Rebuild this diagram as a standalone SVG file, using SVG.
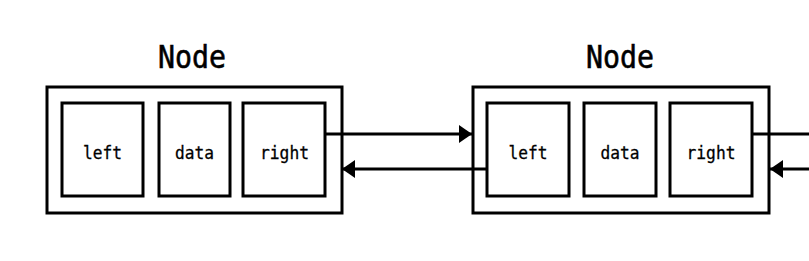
<svg xmlns="http://www.w3.org/2000/svg" width="809" height="261" viewBox="0 0 809 261">
<style>
.outer{fill:none;stroke:#000;stroke-width:3}
.field{fill:none;stroke:#000;stroke-width:3}
.title{font-family:"DejaVu Sans Mono",monospace;font-size:32px;fill:#000;stroke:#000;stroke-width:0.6;text-anchor:middle}
.lbl{font-family:"DejaVu Sans Mono",monospace;font-size:18px;fill:#000;stroke:#000;stroke-width:0.3;text-anchor:middle}
.conn{stroke:#000;stroke-width:3;fill:none}
</style>
<defs>
<marker id="ah" markerUnits="userSpaceOnUse" markerWidth="14" markerHeight="18" refX="13" refY="9" orient="auto">
<path d="M0,0 L13,9 L0,18 z" fill="#000"/>
</marker>
</defs>
<rect width="809" height="261" fill="#fff"/>
<g id="node1">
<text class="title" x="192" y="68" textLength="68" lengthAdjust="spacingAndGlyphs">Node</text>
<rect class="outer" x="47" y="87" width="295" height="126"/>
<rect class="field" x="62" y="103" width="81" height="93"/>
<text class="lbl" x="102.5" y="158.5" textLength="39" lengthAdjust="spacingAndGlyphs">left</text>
<rect class="field" x="159" y="103" width="71" height="93"/>
<text class="lbl" x="194.5" y="158.5" textLength="39" lengthAdjust="spacingAndGlyphs">data</text>
<rect class="field" x="243" y="103" width="82" height="93"/>
<text class="lbl" x="284.5" y="158.5" textLength="49" lengthAdjust="spacingAndGlyphs">right</text>
</g>
<g id="node2">
<text class="title" x="620" y="68" textLength="68" lengthAdjust="spacingAndGlyphs">Node</text>
<rect class="outer" x="473" y="87" width="296" height="126"/>
<rect class="field" x="487" y="103" width="82" height="93"/>
<text class="lbl" x="528" y="158.5" textLength="39" lengthAdjust="spacingAndGlyphs">left</text>
<rect class="field" x="584" y="103" width="72" height="93"/>
<text class="lbl" x="620" y="158.5" textLength="39" lengthAdjust="spacingAndGlyphs">data</text>
<rect class="field" x="670" y="103" width="82" height="93"/>
<text class="lbl" x="711" y="158.5" textLength="49" lengthAdjust="spacingAndGlyphs">right</text>
</g>
<g id="connectors">
<line class="conn" x1="325" y1="134" x2="472" y2="134" marker-end="url(#ah)"/>
<line class="conn" x1="487" y1="169" x2="342" y2="169" marker-end="url(#ah)"/>
<line class="conn" x1="752" y1="134" x2="812" y2="134"/>
<line class="conn" x1="812" y1="169" x2="770" y2="169" marker-end="url(#ah)"/>
</g>
</svg>
